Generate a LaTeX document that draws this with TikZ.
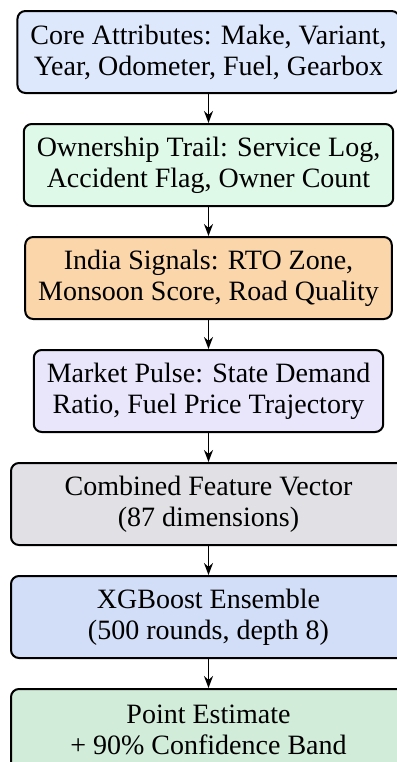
\documentclass[tikz,border=0pt]{standalone}
\usepackage{fontspec}
\setmainfont{Liberation Serif}
\usetikzlibrary{positioning,arrows.meta}

\definecolor{coreblue}{RGB}{221,232,252}
\definecolor{trailgreen}{RGB}{222,249,231}
\definecolor{indiaorange}{RGB}{250,214,170}
\definecolor{pulselilac}{RGB}{233,230,252}
\definecolor{vectorgray}{RGB}{225,225,229}
\definecolor{boostblue}{RGB}{210,222,247}
\definecolor{estgreen}{RGB}{210,236,218}

\tikzset{
  stage/.style={draw, line width=1pt, rounded corners=4pt, align=center,
    minimum height=41pt, inner xsep=6.5pt, font=\fontsize{14}{15.5}\selectfont},
  flow/.style={-{Stealth[length=6pt,width=4.5pt]}, line width=0.9pt}
}

\begin{document}
\begin{tikzpicture}[node distance=14.5pt]
\clip (0,0) rectangle (198.5pt,-381pt);
% feature groups
\node[stage, fill=coreblue, anchor=north] (core) at (104.25pt,-5pt)
  {Core Attributes: Make, Variant,\\Year, Odometer, Fuel, Gearbox};
\node[stage, fill=trailgreen, below=of core] (trail)
  {Ownership Trail: Service Log,\\Accident Flag, Owner Count};
\node[stage, fill=indiaorange, below=of trail] (india)
  {India Signals: RTO Zone,\\Monsoon Score, Road Quality};
\node[stage, fill=pulselilac, below=of india] (pulse)
  {Market Pulse: State Demand\\Ratio, Fuel Price Trajectory};
% model
\node[stage, fill=vectorgray, minimum width=197.5pt, below=of pulse] (vector)
  {Combined Feature Vector\\(87 dimensions)};
\node[stage, fill=boostblue, minimum width=197.5pt, below=of vector] (boost)
  {XGBoost Ensemble\\(500 rounds, depth 8)};
\node[stage, fill=estgreen, minimum width=197.5pt, below=of boost] (estimate)
  {Point Estimate\\+ 90\% Confidence Band};
\draw[flow] (core) -- (trail);
\draw[flow] (trail) -- (india);
\draw[flow] (india) -- (pulse);
\draw[flow] (pulse) -- (vector);
\draw[flow] (vector) -- (boost);
\draw[flow] (boost) -- (estimate);
\end{tikzpicture}
\end{document}
